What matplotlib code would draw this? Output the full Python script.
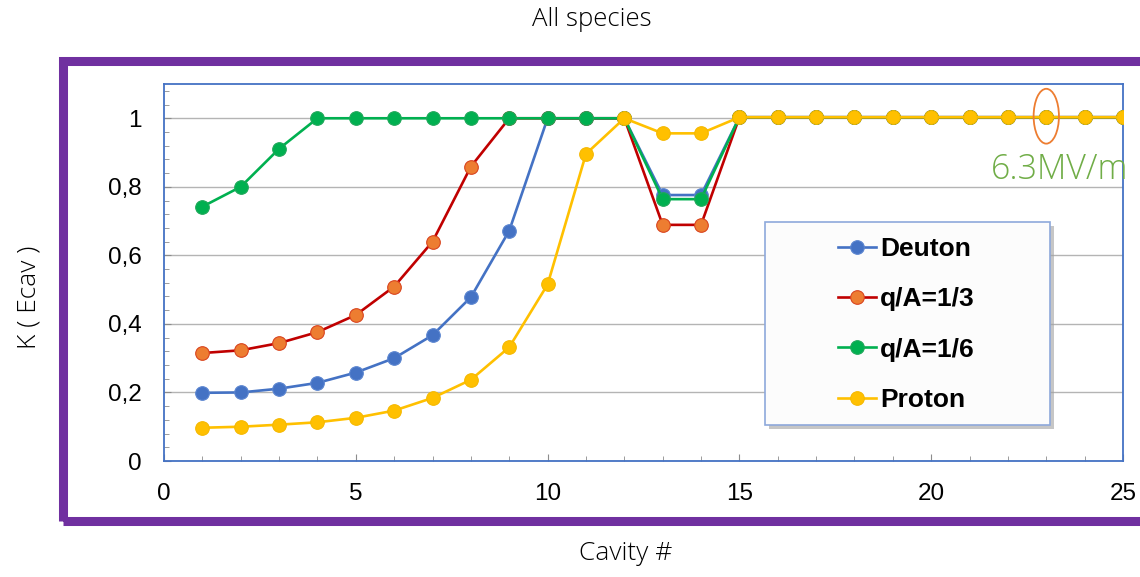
import matplotlib
matplotlib.use("Agg")
import matplotlib.pyplot as plt
from matplotlib.patches import Rectangle, Ellipse
from matplotlib.ticker import MultipleLocator, FuncFormatter

# ---- data ----
cavity = list(range(1, 26))
deuton = [0.199, 0.200, 0.211, 0.228, 0.258, 0.300, 0.367, 0.478, 0.672, 1.0,
          1.0, 1.0, 0.776, 0.776, 1.003, 1.003, 1.003, 1.003, 1.003, 1.003, 1.003, 1.003, 1.003, 1.003, 1.003]
qa13 = [0.315, 0.323, 0.344, 0.376, 0.426, 0.509, 0.640, 0.859, 1.0, 1.0,
        1.0, 1.0, 0.689, 0.689, 1.003, 1.003, 1.003, 1.003, 1.003, 1.003, 1.003, 1.003, 1.003, 1.003, 1.003]
qa16 = [0.742, 0.800, 0.911, 1.0, 1.0, 1.0, 1.0, 1.0, 1.0, 1.0,
        1.0, 1.0, 0.764, 0.764, 1.003, 1.003, 1.003, 1.003, 1.003, 1.003, 1.003, 1.003, 1.003, 1.003, 1.003]
proton = [0.097, 0.100, 0.106, 0.113, 0.126, 0.147, 0.184, 0.237, 0.332, 0.515,
          0.896, 1.0, 0.956, 0.956, 1.003, 1.003, 1.003, 1.003, 1.003, 1.003, 1.003, 1.003, 1.003, 1.003, 1.003]
labels = ["Deuton", "q/A=1/3", "q/A=1/6", "Proton"]

W, H = 1140, 577
fig = plt.figure(figsize=(W / 100, H / 100), dpi=100)

def fx(px):
    return px / W

def fy(py):
    return 1 - py / H

# purple frame
frame = Rectangle((fx(62.5), fy(520.5)), fx(1141.5) - fx(62.5), fy(61.5) - fy(520.5),
                  transform=fig.transFigure, fill=False, edgecolor="#7030A0",
                  linewidth=6.5, clip_on=False, zorder=0)
fig.patches.append(frame)

ax = fig.add_axes([fx(164), fy(461), fx(1123) - fx(164), fy(84) - fy(461)])

styles = [
    dict(color="#4472C4", mfc="#4472C4", mec="#5B85D0"),
    dict(color="#C00000", mfc="#ED7D31", mec="#D9441E"),
    dict(color="#00B050", mfc="#00B050", mec="#1FA75A"),
    dict(color="#FFC000", mfc="#FFC000", mec="#F5B800"),
]
series = [deuton, qa13, qa16, proton]
handles = []
for i, (vals, st, lab) in enumerate(zip(series, styles, labels)):
    h, = ax.plot(cavity, vals, color=st["color"], linewidth=1.9, marker="o",
                 markersize=9.8, markerfacecolor=st["mfc"], markeredgecolor=st["mec"],
                 markeredgewidth=0.8, label=lab, zorder=3 + i)
    handles.append(h)

ax.set_xlim(0, 25)
ax.set_ylim(0, 1.1)
ax.xaxis.set_major_locator(MultipleLocator(5))
ax.xaxis.set_minor_locator(MultipleLocator(1))
ax.yaxis.set_major_locator(MultipleLocator(0.2))
ax.yaxis.set_minor_locator(MultipleLocator(0.04))

def yfmt(v, pos):
    if abs(v) < 1e-9:
        return "0"
    if abs(v - round(v)) < 1e-9:
        return "%d" % round(v)
    return ("%.1f" % v).replace(".", ",")

ax.yaxis.set_major_formatter(FuncFormatter(yfmt))
ax.grid(axis="y", which="major", color="#B4B4B4", linewidth=1.0, zorder=1)
ax.set_axisbelow(True)
for s in ax.spines.values():
    s.set_color("#4472C4")
    s.set_linewidth(1.3)

ax.tick_params(which="both", direction="in", colors="#8C8C8C", labelcolor="black",
               labelsize=17.5, pad=16)
ax.tick_params(which="major", length=5)
ax.tick_params(which="minor", length=3.5)
for lab in ax.get_xticklabels() + ax.get_yticklabels():
    lab.set_family("Liberation Sans")

# legend box with shadow
bx0, by0 = (765 - 164) / 959, (461 - 425) / 377
bw, bh = (1050 - 765) / 959, (425 - 222) / 377
sh = Rectangle((bx0 + 4 / 959, by0 - 4 / 377), bw, bh, transform=ax.transAxes,
               facecolor="#A0A0A0", edgecolor="none", alpha=0.6, zorder=9)
ax.add_patch(sh)
box = Rectangle((bx0, by0), bw, bh, transform=ax.transAxes,
                facecolor="#FCFCFC", edgecolor="#8EA9DB", linewidth=1.2, zorder=10)
ax.add_patch(box)

leg = ax.legend(handles=handles, loc="center left",
                bbox_to_anchor=((838 - 164) / 959, (461 - 324.5) / 377),
                frameon=False, borderpad=0, borderaxespad=0,
                handlelength=1.45, handletextpad=0.15, labelspacing=1.0,
                prop=dict(family="Liberation Sans", weight="bold", size=19))
leg.set_zorder(11)

# annotation
ax.add_patch(Ellipse((23, 1.006), 0.66, 0.16, fill=False, edgecolor="#ED7D31",
                     linewidth=1.3, zorder=12, clip_on=False))
fig.text(fx(1128), fy(170), "6.3MV/m", color="#70AD47", fontsize=24.5,
         family="Open Sans", fontweight="light", ha="right", va="center", zorder=13)

# titles / labels
fig.text(fx(592), fy(20), "All species", fontsize=18.5, family="Open Sans",
         fontweight="light", ha="center", va="center")
fig.text(fx(626), fy(553), "Cavity #", fontsize=19, family="Open Sans",
         fontweight="light", ha="center", va="center")
fig.text(fx(29), fy(297), "K ( Ecav )", fontsize=19, family="Open Sans",
         fontweight="light", ha="center", va="center", rotation=90)

fig.savefig("out.png", dpi=100)
